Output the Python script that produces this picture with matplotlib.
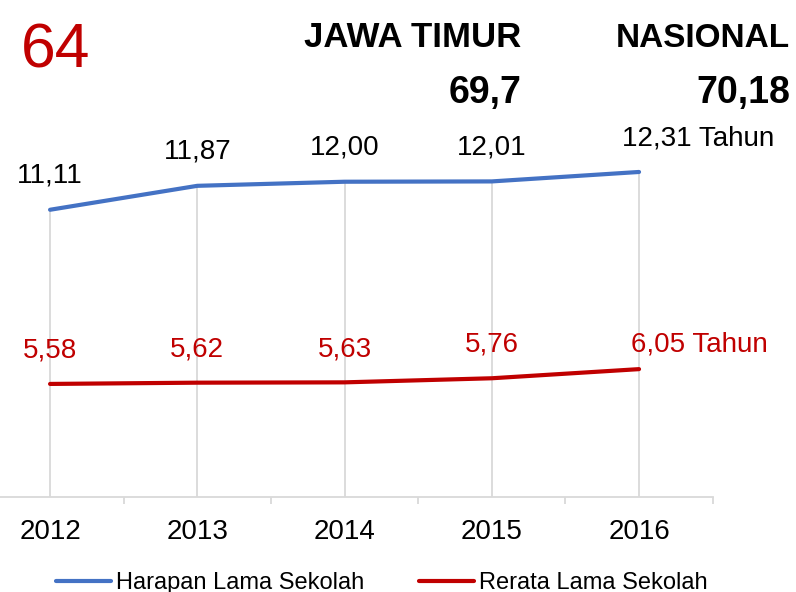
import matplotlib.pyplot as plt

plt.rcParams["font.family"] = ["Liberation Sans", "DejaVu Sans"]

# Data
years = ["2012", "2013", "2014", "2015", "2016"]
harapan = [11.11, 11.87, 12.00, 12.01, 12.31]
rerata = [5.58, 5.62, 5.63, 5.76, 6.05]
harapan_labels = ["11,11", "11,87", "12,00", "12,01", "12,31 Tahun"]
rerata_labels = ["5,58", "5,62", "5,63", "5,76", "6,05 Tahun"]

blue = "#4472C4"
red = "#C00000"
grey = "#D9D9D9"

fig = plt.figure(figsize=(7.96, 5.92), dpi=100)
ax = fig.add_axes([-0.0296, 0.161, 0.9249, 0.839])

x = list(range(len(years)))

# drop lines from axis up to the top series
ax.vlines(x, 2, harapan, color=grey, linewidth=1.3, zorder=1)

ax.plot(x, harapan, color=blue, linewidth=3, solid_capstyle="round", zorder=3, label="Harapan Lama Sekolah")
ax.plot(x, rerata, color=red, linewidth=3, solid_capstyle="round", zorder=3, label="Rerata Lama Sekolah")

# data labels
for i in x:
    if i == len(x) - 1:
        ax.annotate(harapan_labels[i], (i, harapan[i]), xytext=(-12, 24), textcoords="offset points",
                    ha="left", va="center", fontsize=20, color="black")
        ax.annotate(rerata_labels[i], (i, rerata[i]), xytext=(-6, 18), textcoords="offset points",
                    ha="left", va="center", fontsize=20, color=red)
    else:
        ax.annotate(harapan_labels[i], (i, harapan[i]), xytext=(0, 24.5), textcoords="offset points",
                    ha="center", va="center", fontsize=20, color="black")
        ax.annotate(rerata_labels[i], (i, rerata[i]), xytext=(0, 24), textcoords="offset points",
                    ha="center", va="center", fontsize=20, color=red)

ax.set_xlim(-0.5, len(years) - 0.5)
ax.set_ylim(2, 17.77)

# axis styling
for s in ["top", "right", "left"]:
    ax.spines[s].set_visible(False)
ax.spines["bottom"].set_color(grey)
ax.spines["bottom"].set_linewidth(1.3)
ax.set_yticks([])
ax.set_xticks(x)
ax.set_xticklabels(years, fontsize=20)
ax.set_xticks([i + 0.5 for i in range(-1, len(years))], minor=True)
ax.tick_params(axis="x", which="major", length=0, pad=16)
ax.tick_params(axis="x", which="minor", length=5, color=grey, width=1.3)

# header texts
fig.text(21 / 796, 1 - 68 / 592, "64", fontsize=45, color=red, va="baseline", ha="left")
fig.text(521 / 796, 1 - 47 / 592, "JAWA TIMUR", fontsize=25, fontweight="bold", va="baseline", ha="right")
fig.text(521 / 796, 1 - 103 / 592, "69,7", fontsize=27, fontweight="bold", va="baseline", ha="right")
fig.text(790 / 796, 1 - 47 / 592, "NASIONAL", fontsize=24, fontweight="bold", va="baseline", ha="right")
fig.text(790 / 796, 1 - 103 / 592, "70,18", fontsize=27, fontweight="bold", va="baseline", ha="right")

# legend
fig.legend(loc="center left", bbox_to_anchor=(56 / 796, 9 / 592), ncol=2, frameon=False,
           fontsize=17, handlelength=2.35, handletextpad=0.2, columnspacing=2.3,
           borderpad=0, borderaxespad=0)

fig.savefig("out.png", dpi=100)
